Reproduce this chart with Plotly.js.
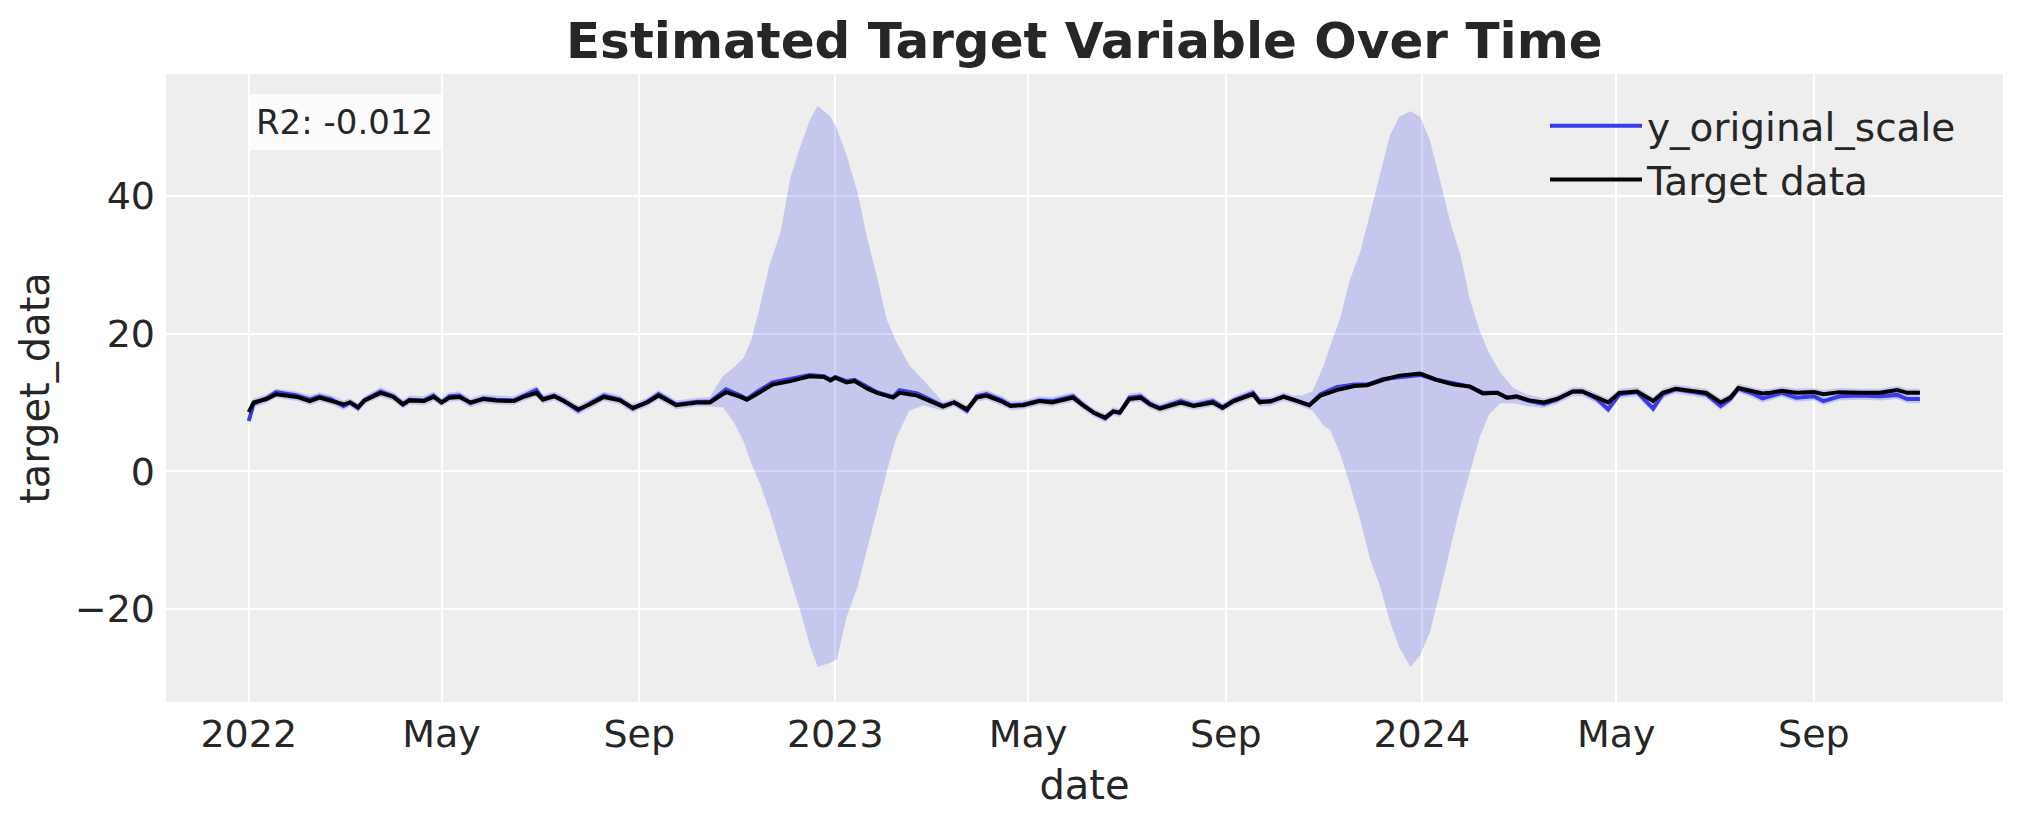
<!DOCTYPE html>
<html>
<head>
<meta charset="utf-8">
<script src="https://cdn.plot.ly/plotly-3.0.1.min.js"></script>
<style>html,body{margin:0;padding:0;background:#fff;}#chart{width:2023px;height:823px;}</style>
</head>
<body>
<div id="chart"></div>
<script>
// ---- data (days counted from START_DATE) ----
const START_DATE = '2022-01-01';

const lineDays = [0,3,11,17,30,38,44,51,59,63,68,72,82,90,96,100,109,115,120,125,131,138,146,154,165,171,179,183,190,196,205,212,221,231,239,248,255,266,279,287,297,306,310,316,326,337,349,358,362,365,372,377,385,391,401,405,416,424,432,439,447,453,459,468,474,482,492,500,513,519,526,533,538,542,548,555,561,567,580,588,600,606,613,625,629,636,644,650,660,667,677,688,696,706,716,729,739,750,760,768,777,783,789,797,806,814,824,830,839,846,853,864,874,880,888,899,907,916,922,927,936,942,947,954,963,974,980,990,1003,1015,1026,1032,1040];

const targetData = [8.6,10.0,10.5,11.2,10.8,10.2,10.7,10.3,9.7,10.0,9.3,10.3,11.4,10.8,9.7,10.3,10.2,10.8,10.0,10.7,10.8,10.0,10.5,10.3,10.2,10.8,11.4,10.4,10.9,10.2,9.0,9.7,10.8,10.3,9.2,10.0,11.0,9.6,10.0,10.0,11.5,10.8,10.4,11.2,12.6,13.1,13.8,13.7,13.2,13.6,12.9,13.1,12.0,11.4,10.7,11.4,11.0,10.2,9.4,10.0,9.0,10.7,11.0,10.2,9.5,9.6,10.2,10.0,10.7,9.6,8.5,7.8,8.7,8.5,10.5,10.7,9.7,9.1,10.0,9.5,10.0,9.2,10.2,11.2,10.0,10.2,10.8,10.4,9.6,11.0,11.8,12.4,12.5,13.3,13.9,14.2,13.3,12.6,12.3,11.3,11.4,10.7,10.9,10.3,10.0,10.5,11.6,11.6,10.7,10.0,11.4,11.6,10.2,11.4,12.0,11.6,11.4,10.0,10.7,12.1,11.6,11.3,11.4,11.7,11.4,11.5,11.2,11.5,11.4,11.4,11.8,11.4,11.4];

const yOriginalScale = [7.3,9.8,10.6,11.5,11.0,10.4,10.9,10.5,9.5,10.0,9.2,10.3,11.6,10.9,9.8,10.4,10.3,11.0,10.0,10.9,11.0,9.9,10.6,10.4,10.3,11.0,11.8,10.5,11.0,10.3,8.8,9.8,11.0,10.4,9.1,10.1,11.2,9.7,10.1,10.1,11.9,11.0,10.5,11.5,12.9,13.4,14.0,13.8,13.3,13.7,13.1,13.3,12.2,11.5,10.8,11.8,11.3,10.4,9.5,10.0,8.8,10.9,11.2,10.4,9.6,9.7,10.3,10.2,10.9,9.7,8.5,7.7,8.7,8.5,10.7,10.9,9.8,9.2,10.2,9.6,10.2,9.3,10.3,11.4,10.2,10.1,10.9,10.4,9.6,11.2,12.2,12.6,12.6,13.4,13.7,14.0,13.3,12.7,12.3,11.4,11.4,10.7,10.8,10.2,9.8,10.4,11.6,11.6,10.5,9.0,11.2,11.5,9.1,11.2,11.9,11.5,11.2,9.5,10.5,12.0,11.3,10.6,10.9,11.4,10.7,10.9,10.2,10.9,11.0,10.9,11.1,10.5,10.5];

const bandDays = [0,3,11,17,30,38,44,51,59,63,68,72,82,90,96,100,109,115,120,125,131,138,146,154,165,171,179,183,190,196,205,212,221,231,239,248,255,266,279,287,295,302,308,313,318,324,331,337,343,349,354,362,366,372,379,385,391,397,403,411,420,428,432,439,447,453,459,468,474,482,492,500,513,519,526,533,538,542,548,555,561,567,580,588,600,606,613,625,629,636,644,650,655,662,669,673,679,685,692,698,704,710,716,723,729,735,741,748,754,760,766,772,779,787,795,806,814,824,830,839,846,853,864,874,880,888,899,907,916,922,927,936,942,947,954,963,974,980,990,1003,1015,1026,1032,1040];

const bandUpper = [9.2,10.6,11.2,12.0,11.6,11.0,11.5,11.1,10.3,10.6,9.9,10.9,12.2,11.5,10.4,11.0,10.9,11.6,10.6,11.5,11.6,10.6,11.2,11.0,10.9,11.6,12.4,11.1,11.6,10.9,9.6,10.4,11.6,11.0,9.8,10.7,11.8,10.3,10.7,10.8,13.8,15.1,16.5,19.3,23.8,29.9,34.8,42.6,47.0,50.9,53.1,51.5,49.8,45.9,40.4,33.7,28.2,22.1,18.8,15.4,13.2,11.2,10.1,10.6,9.6,11.5,11.8,11.0,10.2,10.3,10.9,10.8,11.5,10.3,9.1,8.4,9.3,9.1,11.3,11.5,10.4,9.8,10.8,10.2,10.8,9.9,10.9,12.0,10.8,10.8,11.5,11.0,11.0,11.6,15.4,18.2,22.1,27.6,32.1,37.6,43.2,48.7,51.5,52.3,51.5,48.1,42.6,35.9,31.5,24.9,20.4,17.1,14.3,12.1,11.2,10.6,11.1,12.2,12.2,11.3,10.6,12.0,12.2,10.8,12.0,12.6,12.2,12.0,10.6,11.3,12.7,12.2,11.9,12.0,12.3,12.0,12.1,11.8,12.1,12.0,12.0,12.4,12.0,12.0];

const bandLower = [6.8,9.3,9.9,10.7,10.2,9.6,10.1,9.7,8.9,9.4,8.6,9.7,10.8,10.2,9.1,9.7,9.6,10.2,9.4,10.1,10.2,9.3,9.9,9.7,9.6,10.2,10.8,9.8,10.3,9.6,8.2,9.1,10.2,9.7,8.5,9.4,10.4,9.0,9.4,9.4,9.3,7.1,4.3,1.0,-1.7,-5.7,-11.2,-15.6,-20.1,-25.1,-28.4,-27.8,-27.3,-21.2,-16.7,-11.2,-5.7,-0.1,4.9,8.8,9.6,9.0,8.8,9.4,8.2,10.1,10.4,9.6,8.9,9.0,9.6,9.4,10.1,9.0,7.9,7.1,8.1,7.9,9.9,10.1,9.1,8.5,9.4,8.9,9.4,8.6,9.6,10.6,9.4,9.5,10.2,9.8,9.4,8.8,6.6,6.0,2.7,-1.7,-7.3,-12.9,-16.7,-21.7,-25.6,-28.4,-26.7,-23.4,-17.8,-11.2,-5.1,-0.1,4.9,8.3,9.9,9.9,9.5,9.2,9.8,10.9,10.9,9.9,8.4,10.6,10.9,8.5,10.6,11.3,10.9,10.6,8.9,9.9,11.4,10.7,10.0,10.3,10.8,10.1,10.3,9.6,10.3,10.4,10.3,10.5,9.9,9.9];

const xTickVals = ['2022-01-01','2022-05-01','2022-09-01','2023-01-01','2023-05-01','2023-09-01','2024-01-01','2024-05-01','2024-09-01'];
const xTickText = ['2022','May','Sep','2023','May','Sep','2024','May','Sep'];
const yTickVals = [-20,0,20,40];
const r2Text = 'R2: -0.012';

// ---- build ----
function toDate(d){
  const t = new Date(Date.parse(START_DATE + 'T00:00:00Z') + d*86400000);
  return t.toISOString().slice(0,10);
}
const lineX = lineDays.map(toDate);
const bandX = bandDays.map(toDate);

const FONT = 'DejaVu Sans, Liberation Sans, sans-serif';
const TXT = '#262626';

const traces = [
  {x: bandX, y: bandLower, type:'scatter', mode:'lines', line:{width:0, color:'rgba(0,0,0,0)'},
   showlegend:false, hoverinfo:'skip', legendgroup:'band'},
  {x: bandX, y: bandUpper, type:'scatter', mode:'lines', line:{width:0, color:'rgba(0,0,0,0)'},
   fill:'tonexty', fillcolor:'rgba(42,46,236,0.2)', showlegend:false, hoverinfo:'skip', legendgroup:'band'},
  {x: lineX, y: yOriginalScale, type:'scatter', mode:'lines', name:'y_original_scale',
   line:{color:'#3b3bea', width:4}, legendgroup:'g1'},
  {x: lineX, y: targetData, type:'scatter', mode:'lines', name:'Target data',
   line:{color:'#000000', width:4}, legendgroup:'g2'}
];

const layout = {
  width:2023, height:823,
  margin:{l:166, r:20, t:74, b:121},
  paper_bgcolor:'#ffffff', plot_bgcolor:'#eeeeee',
  font:{family:FONT, color:TXT, size:38},
  title:{text:'Estimated Target Variable Over Time', font:{family:FONT, size:50, weight:'bold', color:TXT},
         x:0.536, xanchor:'center', y:1-40/823, yanchor:'middle', yref:'container'},
  xaxis:{type:'date', range:['2021-11-10 12:00','2024-12-27 17:00'],
         tickmode:'array', tickvals:xTickVals, ticktext:xTickText,
         showgrid:true, gridcolor:'#ffffff', gridwidth:2, zeroline:false, showline:false,
         ticks:'', ticklabelstandoff:6, tickfont:{size:38, family:FONT, color:TXT},
         title:{text:'date', font:{size:40, family:FONT, color:TXT}, standoff:15}, automargin:false},
  yaxis:{range:[-33.5,57.7], tickmode:'array', tickvals:yTickVals,
         showgrid:true, gridcolor:'#ffffff', gridwidth:2, zeroline:false, showline:false,
         ticks:'', ticklabelstandoff:10, tickfont:{size:38, family:FONT, color:TXT},
         title:{text:'target_data', font:{size:40, family:FONT, color:TXT}, standoff:12}, automargin:false},
  showlegend:true,
  legend:{x:(1545-166)/1837, xanchor:'left', y:(702-94)/628, yanchor:'top',
          traceorder:'normal', tracegroupgap:6,
          bgcolor:'rgba(0,0,0,0)', borderwidth:0, font:{size:39, family:FONT, color:TXT},
          itemwidth:92},
  annotations:[{text:r2Text, xref:'paper', yref:'paper', x:(248-166)/1837, y:(702-122)/628,
                xanchor:'left', yanchor:'middle', showarrow:false, align:'left',
                width:178, height:40, borderpad:8,
                font:{size:34, family:FONT, color:TXT}, bgcolor:'rgba(255,255,255,0.8)',
                borderwidth:0}]
};

Plotly.newPlot('chart', traces, layout, {staticPlot:true, displayModeBar:false});
</script>
</body>
</html>
